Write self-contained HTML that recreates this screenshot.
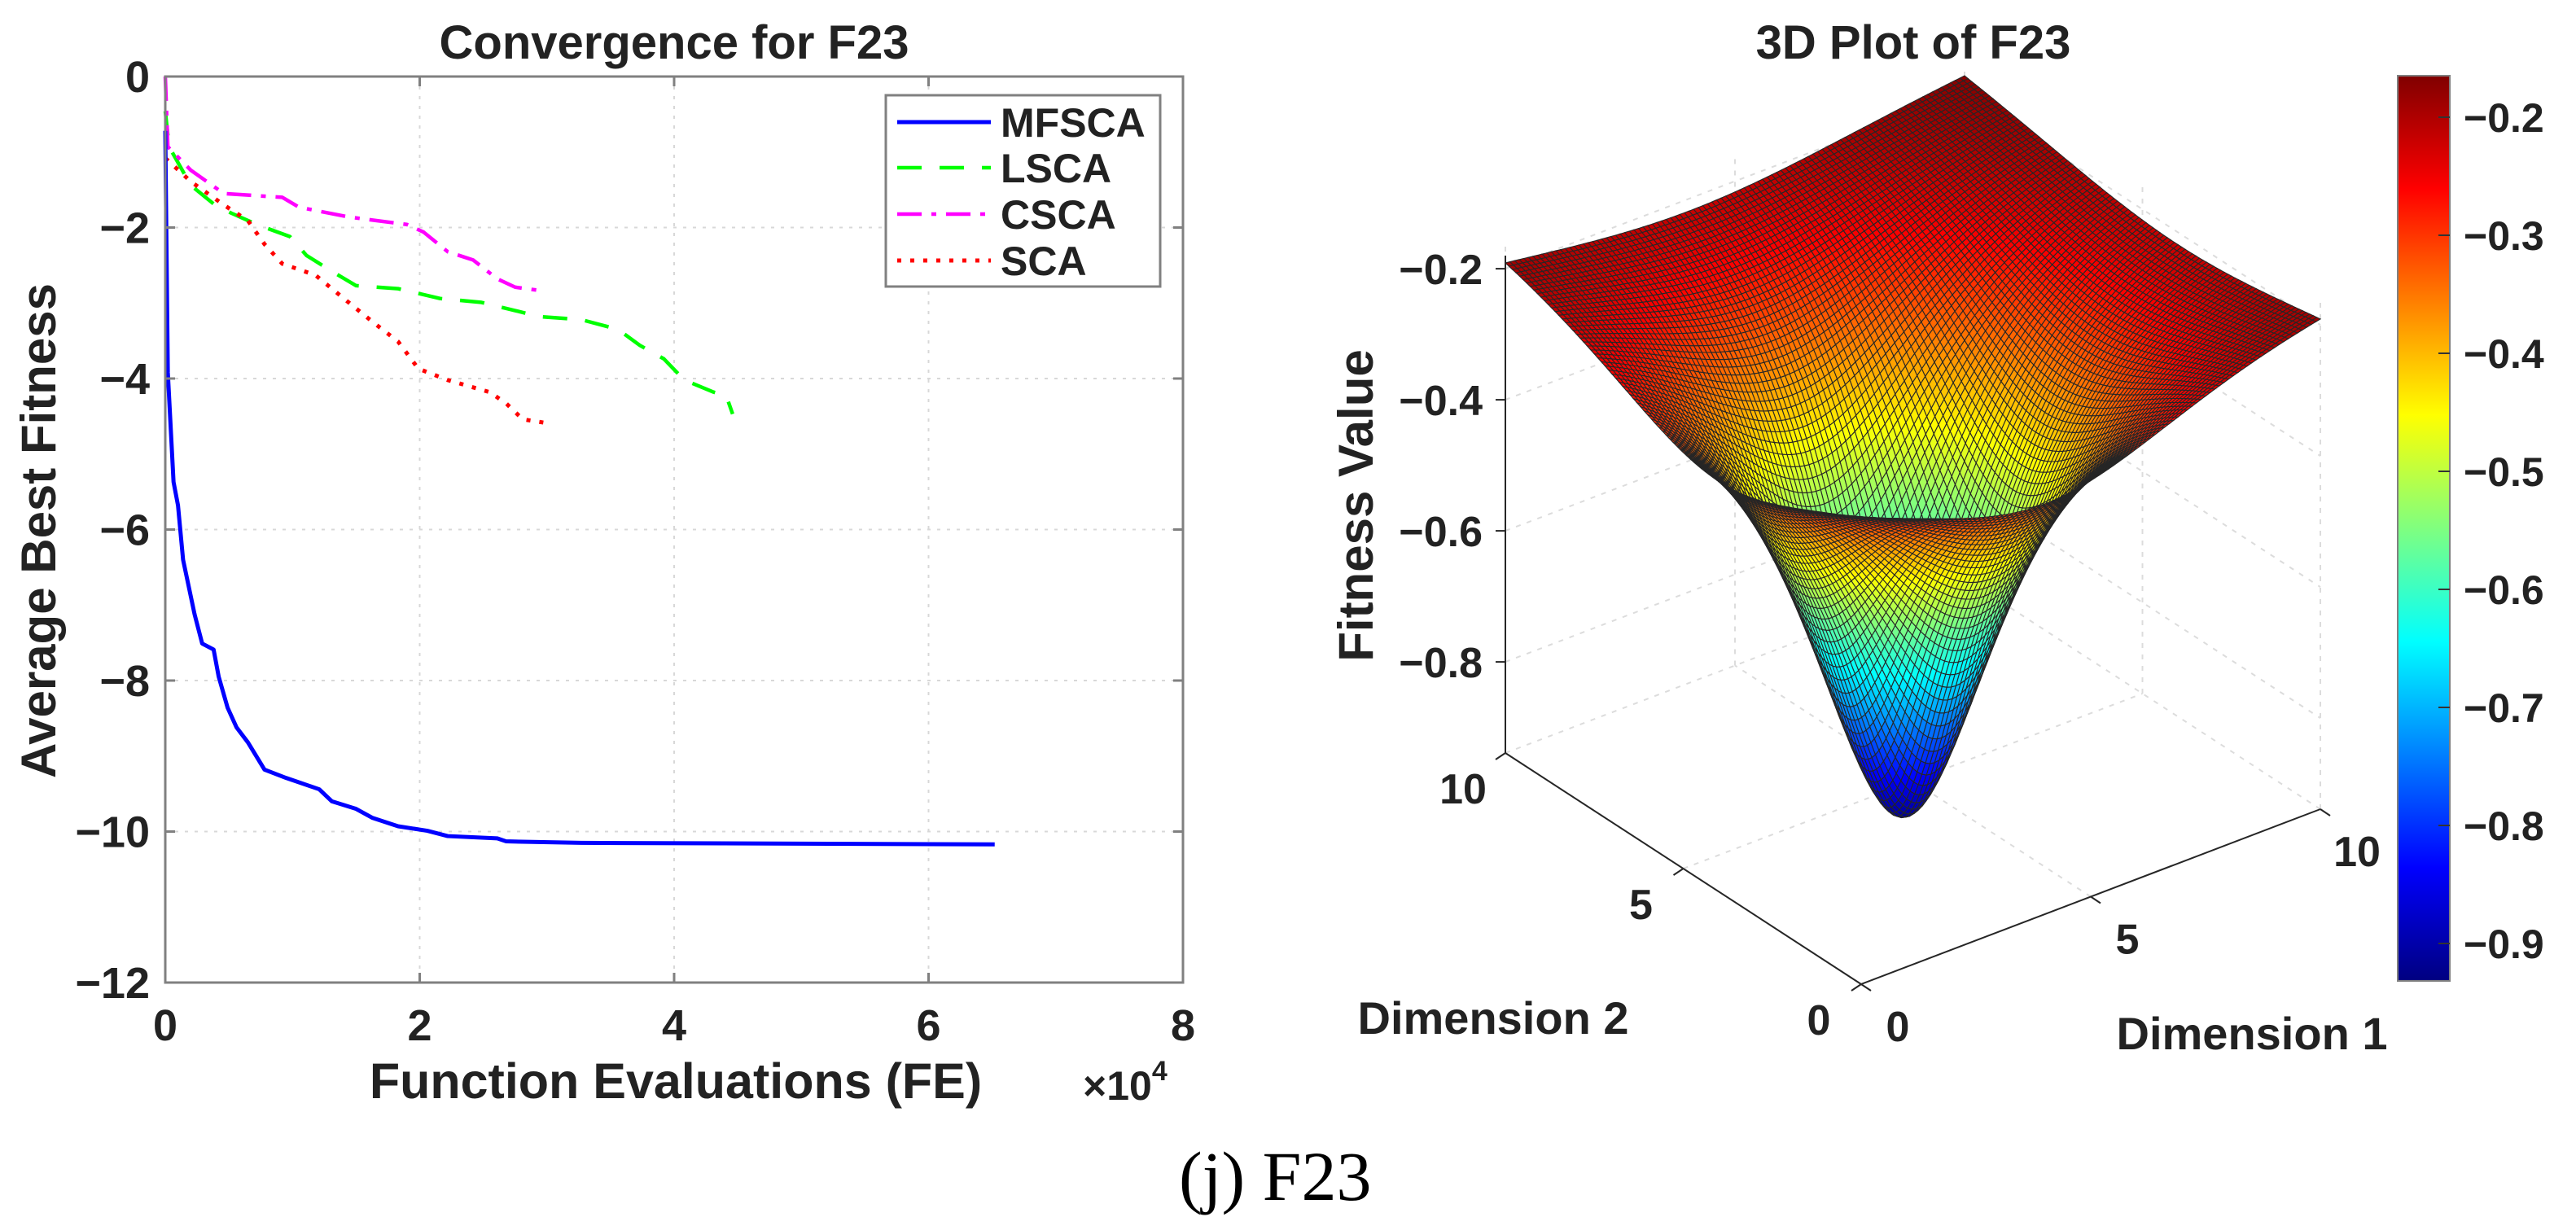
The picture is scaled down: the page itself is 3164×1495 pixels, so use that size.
<!DOCTYPE html>
<html><head><meta charset="utf-8">
<style>
html,body{margin:0;padding:0;background:#fff;}
svg{display:block;font-family:"Liberation Sans",Arial,sans-serif;}
.b{font-weight:bold;fill:#222;}
</style></head>
<body>
<svg id="root" width="3164" height="1495" viewBox="0 0 3164 1495" xmlns="http://www.w3.org/2000/svg">
<rect width="3164" height="1495" fill="#fff"/>
<!-- LEFT PLOT -->
<g id="left">
  <text class="b" x="828" y="72" font-size="58" text-anchor="middle">Convergence for F23</text>
  <g id="lgrid"></g>
  <g id="lseries"></g>
  <rect x="203" y="94" width="1250" height="1113" fill="none" stroke="#808080" stroke-width="3"/>
  <g id="lticks"></g>
  <text class="b" x="830" y="1349" font-size="61" text-anchor="middle">Function Evaluations (FE)</text>
  <text class="b" x="1330" y="1351" font-size="50">×10<tspan font-size="34" dy="-24">4</tspan></text>
  <text class="b" x="0" y="0" font-size="60" text-anchor="middle" transform="translate(68,652) rotate(-90)">Average Best Fitness</text>
  <g>
    <rect x="1088" y="117" width="337" height="235" fill="#fff" stroke="#808080" stroke-width="3"/>
    <line x1="1102" y1="150" x2="1217" y2="150" stroke="#0000ff" stroke-width="5"/>
    <text class="b" x="1229" y="168" font-size="50">MFSCA</text>
    <line x1="1102" y1="206" x2="1217" y2="206" stroke="#00ff00" stroke-width="4.5" stroke-dasharray="30,22"/>
    <text class="b" x="1229" y="224" font-size="50">LSCA</text>
    <line x1="1102" y1="263" x2="1217" y2="263" stroke="#ff00ff" stroke-width="4.5" stroke-dasharray="30,12,6,12"/>
    <text class="b" x="1229" y="281" font-size="50">CSCA</text>
    <line x1="1102" y1="320" x2="1217" y2="320" stroke="#ff0000" stroke-width="5" stroke-dasharray="5,11"/>
    <text class="b" x="1229" y="338" font-size="50">SCA</text>
  </g>
</g>
<!-- RIGHT PLOT -->
<g id="right">
  <text class="b" x="2350" y="72" font-size="58" text-anchor="middle">3D Plot of F23</text>
  <g id="rgrid"></g>
  <g id="raxes"></g>
  <g id="surf"></g>
  <text class="b" x="0" y="0" font-size="60" text-anchor="middle" transform="translate(1686,621) rotate(-90)">Fitness Value</text>
  <text class="b" x="1834" y="1270" font-size="56" text-anchor="middle">Dimension 2</text>
  <text class="b" x="2766" y="1289" font-size="56" text-anchor="middle">Dimension 1</text>
  <defs><linearGradient id="jet" x1="0" y1="1" x2="0" y2="0">
    <stop offset="0" stop-color="#000080"/><stop offset="0.125" stop-color="#0000ff"/>
    <stop offset="0.375" stop-color="#00ffff"/><stop offset="0.625" stop-color="#ffff00"/>
    <stop offset="0.875" stop-color="#ff0000"/><stop offset="1" stop-color="#800000"/>
  </linearGradient></defs>
  <rect x="2945" y="93" width="64" height="1112" fill="url(#jet)" stroke="#808080" stroke-width="2"/>
  <g id="cbticks"></g>
</g>
<text x="1448" y="1474" font-size="86" font-family="'Liberation Serif',serif" fill="#000">(j) F23</text>
</svg>
<script>
// ---------- convergence data (x in 1e4 FE) ----------
const mfscaX = [0,0.02,0.065,0.1,0.14,0.23,0.29,0.38,0.42,0.49,0.56,0.65,0.78,0.95,1.21,1.31,1.5,1.63,1.83,2.06,2.22,2.61,2.68,3.27,6.52];
const mfscaY = [-0.72,-3.92,-5.37,-5.68,-6.4,-7.12,-7.51,-7.59,-7.95,-8.36,-8.62,-8.82,-9.18,-9.29,-9.44,-9.6,-9.7,-9.82,-9.93,-9.99,-10.06,-10.09,-10.13,-10.15,-10.17];
const lscaX = [0,0.03,0.2,0.39,0.52,0.72,0.98,1.11,1.31,1.5,1.83,2.16,2.48,2.75,2.94,3.27,3.56,3.73,3.92,4.08,4.31,4.41,4.46];
const lscaY = [-0.46,-0.93,-1.44,-1.7,-1.81,-1.96,-2.12,-2.37,-2.58,-2.77,-2.81,-2.94,-2.99,-3.1,-3.18,-3.22,-3.35,-3.56,-3.74,-4.02,-4.18,-4.23,-4.47];
const cscaX = [0,0.02,0.2,0.46,0.92,1.05,1.44,1.9,2.03,2.22,2.42,2.61,2.75,2.97];
const cscaY = [0,-0.93,-1.24,-1.55,-1.6,-1.73,-1.86,-1.96,-2.06,-2.32,-2.43,-2.68,-2.79,-2.84];
const scaX = [0,0.2,0.46,0.65,0.78,0.92,1.18,1.44,1.63,1.83,1.99,2.22,2.55,2.68,2.81,3.0];
const scaY = [-1.08,-1.39,-1.7,-1.91,-2.22,-2.48,-2.63,-2.99,-3.25,-3.51,-3.87,-4.02,-4.18,-4.33,-4.54,-4.59];
const xTicks = [0,2,4,6,8];
const yTicks = [0,-2,-4,-6,-8,-10,-12];
// colorbar / 3D ticks
const cbTicks = [-0.2,-0.3,-0.4,-0.5,-0.6,-0.7,-0.8,-0.9];
const zTicks = [-0.2,-0.4,-0.6,-0.8];
const dimTicks = [0,5,10];

const NS = "http://www.w3.org/2000/svg";
function mk(tag, attrs, parent){const e=document.createElementNS(NS,tag);for(const k in attrs)e.setAttribute(k,attrs[k]);parent.appendChild(e);return e;}
const fmt = v => (v<0?"\u2212":"")+Math.abs(v);

const X = v => 203 + v*156.25;
const Y = v => 94 - v*(1113/12);

const lgrid=document.getElementById('lgrid'), lticks=document.getElementById('lticks'), lseries=document.getElementById('lseries');
xTicks.forEach(t=>{
  if(t>0&&t<8){const g=mk('line',{x1:X(t),y1:94,x2:X(t),y2:1207,stroke:'#d8d8d8','stroke-width':2,'stroke-dasharray':'4,8'},lgrid);
  
  }
  const tk=mk('path',{d:`M${X(t)},1207v-12M${X(t)},94v12`,stroke:'#808080','stroke-width':3},lticks);
  
  
  const lb=mk('text',{x:X(t),y:1278,'font-size':54,'text-anchor':'middle',class:'b'},lticks);
  lb.textContent=fmt(t);
  
  
});
yTicks.forEach(t=>{
  if(t<0&&t>-12){const g=mk('line',{x1:203,y1:Y(t),x2:1453,y2:Y(t),stroke:'#d8d8d8','stroke-width':2,'stroke-dasharray':'4,8'},lgrid);
  
  }
  const tk=mk('path',{d:`M203,${Y(t)}h12M1453,${Y(t)}h-12`,stroke:'#808080','stroke-width':3},lticks);
  
  
  const lb=mk('text',{x:184,y:Y(t)+19,'font-size':54,'text-anchor':'end',class:'b'},lticks);
  lb.textContent=fmt(t);
  
  
});
function series(xs,ys,color,w,dash,name){
  let d='';
  for(let i=0;i<xs.length;i++){
    d+=(i===0?'M':'L')+X(xs[i])+','+Y(ys[i]);
  }
  const p=mk('path',{d:d,fill:'none',stroke:color,'stroke-width':w,'stroke-dasharray':dash||'none','stroke-linejoin':'round'},lseries);
  
  
}
series(lscaX,lscaY,'#00ff00',4.5,'30,22','line-lsca');
series(cscaX,cscaY,'#ff00ff',4.5,'30,12,6,12','line-csca');
series(scaX,scaY,'#ff0000',5,'5,11','line-sca');
series(mfscaX,mfscaY,'#0000ff',5,null,'line-mfsca');

// ---------- 3D surface ----------
const ZF=-0.939;
function P(x,y,z){return [2286 + x*56.4 - y*43.7, 1209 - x*21.5 - y*28.4 - (z-ZF)*805];}
const surfMin=-0.93, surfBase=-0.12, surfCenter=[4,4], surfSpread=5;
function F(x,y){const r2=(x-surfCenter[0])**2+(y-surfCenter[1])**2;return surfBase-(surfBase-surfMin)/(1+r2/surfSpread);}
function jet(t){
  t=Math.max(0,Math.min(1,t));
  const r=Math.max(0,Math.min(1,1.5-Math.abs(4*t-3)));
  const g=Math.max(0,Math.min(1,1.5-Math.abs(4*t-2)));
  const b=Math.max(0,Math.min(1,1.5-Math.abs(4*t-1)));
  return `rgb(${Math.round(r*255)},${Math.round(g*255)},${Math.round(b*255)})`;
}
const rgrid=document.getElementById('rgrid'), raxes=document.getElementById('raxes');
function ln(a,b,par,st,name){const e=mk('line',{x1:a[0],y1:a[1],x2:b[0],y2:b[1],stroke:st.c,'stroke-width':st.w,'stroke-dasharray':st.d||'none'},par);
  
  }
const gs={c:'#dcdcdc',w:2,d:'6,8'};
const ZT=-0.16;
dimTicks.forEach(t=>{
  ln(P(t,0,ZF),P(t,10,ZF),rgrid,gs,'floor-gridline');
  ln(P(0,t,ZF),P(10,t,ZF),rgrid,gs,'floor-gridline');
  ln(P(t,10,ZF),P(t,10,ZT),rgrid,gs,'wall-gridline');
  ln(P(10,t,ZF),P(10,t,ZT),rgrid,gs,'wall-gridline');
});
zTicks.forEach(z=>{
  ln(P(0,10,z),P(10,10,z),rgrid,gs,'wall-gridline');
  ln(P(10,10,z),P(10,0,z),rgrid,gs,'wall-gridline');
});
const ax={c:'#262626',w:2};
ln(P(0,0,ZF),P(10,0,ZF),raxes,ax,'dimension-1-axis');
ln(P(0,0,ZF),P(0,10,ZF),raxes,ax,'dimension-2-axis');
ln(P(0,10,ZF),P(0,10,-0.18),raxes,ax,'z-axis');
dimTicks.forEach(t=>{
  const a=P(t,0,ZF);ln(a,[a[0]+12,a[1]+8],raxes,ax,'dimension-1-tick');
  const l=mk('text',{x:a[0]+45,y:a[1]+70,'font-size':52,'text-anchor':'middle',class:'b'},raxes);
  l.textContent=t;
  
  
  const b=P(0,t,ZF);ln(b,[b[0]-12,b[1]+8],raxes,ax,'dimension-2-tick');
  const l2=mk('text',{x:b[0]-52,y:b[1]+62,'font-size':52,'text-anchor':'middle',class:'b'},raxes);
  l2.textContent=t;
  
  
});
zTicks.forEach(z=>{
  const a=P(0,10,z);ln(a,[a[0]-12,a[1]],raxes,ax,'z-tick');
  const l=mk('text',{x:a[0]-28,y:a[1]+19,'font-size':52,'text-anchor':'end',class:'b'},raxes);
  l.textContent=fmt(z);
  
  
});
const surf=document.getElementById('surf');
const N=100, cells=[];
for(let i=0;i<N;i++)for(let j=0;j<N;j++){
  const x0=10*i/N,x1=10*(i+1)/N,y0=10*j/N,y1=10*(j+1)/N;
  const z00=F(x0,y0),z10=F(x1,y0),z11=F(x1,y1),z01=F(x0,y1);
  const zc=(z00+z10+z11+z01)/4;
  cells.push({pts:[P(x0,y0,z00),P(x1,y0,z10),P(x1,y1,z11),P(x0,y1,z01)],z:zc,depth:21.5*(x0+x1)+28.4*(y0+y1)});
}
cells.sort((a,b)=>b.depth-a.depth);
let html='';
cells.forEach(c=>{
  const col=jet((c.z+0.933)/(0.768));
  html+=`<polygon points="${c.pts.map(p=>p[0].toFixed(1)+','+p[1].toFixed(1)).join(' ')}" fill="${col}" stroke="#262626" stroke-width="1.1"/>`;
});
surf.innerHTML=html;
const cb=document.getElementById('cbticks');
cbTicks.forEach(v=>{
  const y=144+(-0.2-v)*1450;
  const t=mk('line',{x1:2995,y1:y,x2:3009,y2:y,stroke:'#333','stroke-width':2},cb);
  
  
  const l=mk('text',{x:3026,y:y+18,'font-size':50,class:'b'},cb);
  l.textContent=fmt(v);
  
  
});
</script>
</body></html>
